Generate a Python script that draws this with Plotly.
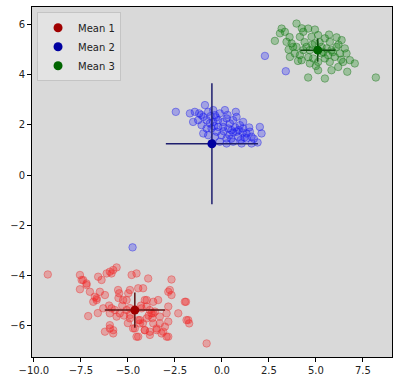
import plotly.graph_objects as go

# ---- data ----
red_x = [-9.26, -7.55, -7.46, -7.2, -7.55, -7.02, -6.76, -6.66, -6.58, -6.4, -6.49, -6.22, -6.13, -5.96,
         -5.78, -5.6, -5.52, -5.46, -5.07, -4.89, -4.8, -4.54, -4.45, -4.19, -3.92, -4.0, -3.65, -3.39,
         -2.68, -2.77, -2.68, -1.97, -2.32, -1.88, -1.74, -7.11, -6.31, -5.96, -5.69, -5.43, -6.22, -5.96,
         -5.78, -4.89, -4.63, -4.45, -4.36, -4.1, -3.83, -3.74, -3.56, -3.3, -3.21, -2.94, -3.03, -3.47,
         -4.0, -2.94, -0.81, -7.38, -7.2, -6.84, -6.66, -5.87, -5.25, -4.98, -4.1, -2.85, -1.91, -2.85,
         -5.87, -5.07, -4.27, -3.83, -3.65, -5.6, -4.89, -4.45, -4.0, -3.3, -2.85, -1.79, -5.96, -4.36,
         -3.65, -4.72, -4.1, -3.47, -3.12, -3.83, -2.85, -4.54, -5.78, -5.3, -4.9, -4.3, -3.9, -3.7,
         -4.2, -5.0, -5.2, -6.0, -6.6, -5.5]
red_y = [-3.96, -3.98, -4.18, -4.32, -4.55, -4.65, -4.85, -4.98, -4.05, -4.18, -4.65, -4.78, -3.92, -3.85,
         -3.78, -3.68, -4.58, -4.71, -4.98, -4.58, -3.98, -3.92, -4.51, -4.51, -4.12, -4.98, -5.05, -4.98,
         -4.16, -4.58, -4.78, -5.05, -5.51, -5.78, -5.91, -5.62, -5.31, -5.51, -5.38, -5.51, -6.24, -6.11,
         -6.31, -5.58, -6.11, -6.44, -5.78, -6.18, -6.24, -5.51, -5.44, -5.91, -6.31, -6.44, -6.04, -6.18,
         -5.24, -5.51, -6.71, -4.18, -4.38, -5.05, -4.91, -3.92, -4.98, -4.71, -4.98, -5.24, -5.05, -4.65,
         -5.31, -5.38, -5.31, -5.38, -5.51, -5.64, -5.71, -5.78, -5.71, -5.64, -5.84, -5.78, -5.98, -5.91,
         -5.91, -6.11, -6.18, -6.11, -6.24, -6.37, -6.44, -6.44, -6.18, -5.2, -5.3, -5.2, -5.6, -5.7,
         -5.9, -5.9, -5.6, -5.2, -5.5, -4.9]

blue_x = [-2.45, -1.7, -1.44, -1.21, -0.9, -0.99, -1.26, -1.08, -0.81, -0.73, -0.46, -0.37, -0.2, -0.11,
          0.16, 0.25, 0.43, 0.6, 0.74, 0.96, 1.13, 1.31, 1.49, 1.58, 2.02, 2.11, 1.58, 1.05, 0.6, 0.25,
          -0.02, -0.28, -0.55, -0.64, -0.2, 0.07, 0.34, 0.51, 0.78, 0.87, 1.31, 0.07, -0.46, -0.81, -1.53,
          -0.99, -0.73, -0.37, -0.11, 0.25, 1.13, 0.78, 0.4, 0.6, 0.7, 0.9, 1.1, 1.2, 0.5, 1.0, -0.4,
          -0.3, 0.1, -0.6, -1.1, 0.3, 1.45, 1.7, 1.9, -4.75, 2.29, 3.4]
blue_y = [2.52, 2.46, 2.52, 2.46, 2.79, 2.32, 2.19, 1.99, 1.86, 2.52, 2.59, 2.39, 2.19, 2.46,
          2.59, 2.26, 2.06, 2.19, 2.52, 1.99, 1.86, 1.66, 1.73, 1.53, 1.92, 1.66, 1.26, 1.26, 1.33, 1.46,
          1.59, 1.73, 1.86, 2.06, 1.92, 1.92, 1.86, 1.79, 1.73, 1.53, 1.46, 2.12, 2.12, 2.19, 2.12,
          1.66, 1.59, 1.53, 1.33, 1.26, 2.12, 2.32, 1.6, 1.7, 1.9, 1.8, 1.7, 1.5, 1.45, 1.4, 1.95,
          2.3, 1.75, 2.35, 2.4, 2.4, 1.9, 1.45, 1.3, -2.88, 4.75, 4.14]

green_x = [3.97, 3.18, 3.35, 3.09, 2.82, 3.44, 3.71, 3.79, 3.88, 3.62, 4.15, 4.33, 4.59, 4.95, 4.77,
           5.12, 5.48, 5.74, 6.1, 6.37, 6.54, 6.63, 6.28, 6.01, 6.45, 7.07, 6.19, 5.74, 5.48, 5.12, 4.86,
           4.68, 5.12, 5.48, 4.59, 5.83, 6.67, 8.19, 4.5, 4.68, 4.33, 5.57, 5.83, 5.3, 4.95, 4.15, 3.97,
           6.1, 6.81, 4.24, 5.65, 5.3, 4.4, 4.8, 5.2, 5.4, 4.6, 5.9, 6.2, 3.55, 4.05, 5.0, 6.35, 5.7,
           4.25, 3.6]
green_y = [6.04, 5.84, 5.71, 5.65, 5.35, 5.31, 5.25, 5.11, 4.85, 4.71, 4.78, 5.71, 5.84, 5.8, 5.51,
           5.58, 5.45, 5.31, 5.49, 5.38, 5.05, 4.85, 4.85, 4.71, 4.51, 4.45, 4.31, 4.51, 4.65, 4.51, 4.65,
           4.45, 4.18, 3.85, 3.89, 4.18, 4.12, 3.89, 5.11, 4.98, 4.98, 5.05, 4.98, 5.11, 5.25, 5.51, 5.11,
           5.11, 4.58, 4.58, 4.78, 4.85, 5.3, 5.2, 5.3, 4.9, 4.7, 4.9, 5.2, 5.0, 4.55, 4.35, 4.6, 5.6,
           5.85, 5.5]

mean_names = ["Mean 1", "Mean 2", "Mean 3"]
mean_x = [-4.63, -0.53, 5.1]
mean_y = [-5.38, 1.25, 4.98]
err_x = [1.6, 2.45, 0.93]
err_y = [0.7, 2.41, 0.46]

x_ticks = [-10.0, -7.5, -5.0, -2.5, 0.0, 2.5, 5.0, 7.5]
y_ticks = [-6, -4, -2, 0, 2, 4, 6]

# ---- styles ----
pt_fill = ["rgba(255,0,0,0.25)", "rgba(0,0,255,0.25)", "rgba(0,128,0,0.28)"]
pt_edge = ["rgba(230,60,60,0.45)", "rgba(40,40,230,0.45)", "rgba(30,120,30,0.45)"]
mean_col = ["#a00000", "#0000a0", "#006400"]
bar_col = ["#5c1010", "#1e1e6e", "#0d4a0d"]

fig = go.Figure()
for xs, ys, f, e in zip([red_x, blue_x, green_x], [red_y, blue_y, green_y], pt_fill, pt_edge):
    fig.add_trace(go.Scatter(x=xs, y=ys, mode="markers", showlegend=False, hoverinfo="skip",
                             marker=dict(size=7.5, color=f, line=dict(color=e, width=1))))

for i in range(3):
    fig.add_trace(go.Scatter(
        x=[mean_x[i]], y=[mean_y[i]], mode="markers", name=mean_names[i],
        marker=dict(size=9, color=mean_col[i]),
        error_x=dict(type="data", array=[err_x[i]], color=bar_col[i], thickness=1.5, width=0),
        error_y=dict(type="data", array=[err_y[i]], color=bar_col[i], thickness=1.5, width=0)))

axis_common = dict(showgrid=False, zeroline=False, showline=True, mirror=True, linecolor="black",
                   linewidth=1, ticks="outside", ticklen=4, tickcolor="black", automargin=False,
                   tickfont=dict(family="DejaVu Sans", size=10, color="#222"))
fig.update_xaxes(range=[-10.1, 9.05], tickvals=x_ticks, tickformat=".1f", **axis_common)
fig.update_yaxes(range=[-7.25, 6.7], tickvals=y_ticks, **axis_common)

fig.update_layout(
    width=400, height=384, margin=dict(l=32, r=8, t=7, b=27),
    paper_bgcolor="white", plot_bgcolor="#d9d9d9",
    font=dict(family="DejaVu Sans", size=10, color="#222"),
    legend=dict(x=0.014, y=0.985, xanchor="left", yanchor="top", bgcolor="rgba(228,228,228,0.85)",
                bordercolor="#c4c4c4", borderwidth=1, font=dict(size=10), itemwidth=30,
                tracegroupgap=0),
)
fig.write_html("out.html", config={"displayModeBar": False},
               post_script="document.body.style.margin='0';document.body.style.overflow='hidden';")
